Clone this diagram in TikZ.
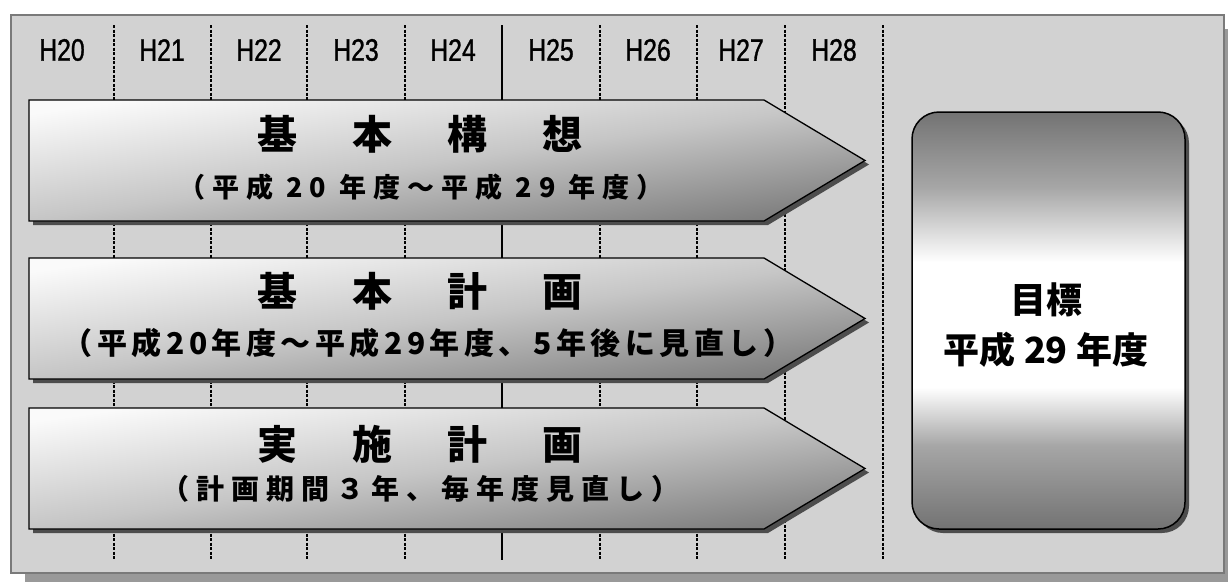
\documentclass[tikz,border=0pt]{standalone}
\usepackage{fontspec}
\newfontfamily\cjk{Noto Sans CJK JP}
\newfontfamily\labfont[FakeStretch=0.8,FakeBold=1]{Liberation Sans}
\definecolor{panelfill}{HTML}{D2D2D2}
\definecolor{panelline}{HTML}{7A7A7A}
\definecolor{panelshadow}{HTML}{999999}
\definecolor{boxshadow}{HTML}{4D4D4D}
\definecolor{gdark}{HTML}{737373}
\definecolor{gmid}{HTML}{A6A6A6}
\definecolor{adark}{HTML}{7C7C7C}
\definecolor{amid}{HTML}{C6C6C6}
\definecolor{alight}{HTML}{FAFAFA}
\pgfdeclareverticalshading{goalshade}{100bp}{color(0bp)=(gdark); color(25bp)=(gdark); color(35bp)=(gmid); color(42bp)=(white); color(57bp)=(white); color(66bp)=(gmid); color(75bp)=(gdark); color(100bp)=(gdark)}
\pgfdeclareverticalshading{arrowshade}{100bp}{color(0bp)=(adark); color(25bp)=(adark); color(50bp)=(amid); color(75bp)=(alight); color(100bp)=(alight)}
\tikzset{
  panel/.style={fill=panelfill, draw=panelline, line width=1.5pt},
  gridline/.style={line width=1.2pt, dash pattern=on 3pt off 1.5pt},
  mainline/.style={line width=2.6pt},
  yearlab/.style={font=\labfont\fontsize{31}{31}\selectfont, inner sep=0pt},
  stage/.style={draw=black, line width=1.3pt, shading=arrowshade, shading angle=8},
  goalbox/.style={draw=black, line width=1.5pt, shading=goalshade, rounded corners=27pt},
  titlelab/.style={font=\cjk\bfseries\fontsize{40}{40}\selectfont, inner sep=0pt},
  sublab/.style={font=\cjk\bfseries\fontsize{#1}{#1}\selectfont, inner sep=0pt},
  goallab/.style={font=\cjk\bfseries\fontsize{36}{50}\selectfont, align=center, inner sep=0pt},
}
\newcommand\stagearrow[2]{%
  \fill[boxshadow] (33,#1+4) -- (768,#1+4) -- (869,{(#1+#2)/2+4}) -- (768,#2+4) -- (33,#2+4) -- cycle;
  \shadedraw[stage] (29,#1) -- (764,#1) -- (865,{(#1+#2)/2}) -- (764,#2) -- (29,#2) -- cycle;
}
\newcommand\tch[1]{\makebox[95pt]{#1}}
\begin{document}
\begin{tikzpicture}[x=1pt,y=-1pt]
\useasboundingbox (0,0) rectangle (1228,581);
% panel
\fill[panelshadow] (25,29) rectangle (1240,590);
\draw[panel] (11,15) rectangle (1224,573);
% grid
\foreach \gx in {114,211,307,405,600,697,785,883}
  \draw[gridline] (\gx,25) -- (\gx,560);
\draw[mainline] (502,25) -- (502,560);
% year labels
\foreach \yx/\yt in {62/H20,162/H21,259/H22,356/H23,453/H24,551/H25,648/H26,741/H27,834/H28}
  \node[yearlab] (yr\yt) at (\yx,50) {\yt};
% stage arrows
\stagearrow{100}{221}
\stagearrow{258}{379}
\stagearrow{408}{529}
% goal box
\fill[boxshadow, rounded corners=27pt] (916,116) rectangle (1189,533);
\shadedraw[goalbox] (912,112) rectangle (1185,529);
% texts
\node[titlelab] (t1) at (420,134) {\tch{基}\tch{本}\tch{構}\tch{想}};
\node[sublab=27] (s1) at (421,187) {\addfontfeature{LetterSpace=26}（平成 20 年度～平成 29 年度）};
\node[titlelab] (t2) at (420,291) {\tch{基}\tch{本}\tch{計}\tch{画}};
\node[sublab=30] (s2) at (428,343) {\addfontfeature{LetterSpace=15}（平成20年度～平成29年度、5年後に見直し）};
\node[titlelab] (t3) at (420,444) {\tch{実}\tch{施}\tch{計}\tch{画}};
\node[sublab=28] (s3) at (420,489) {\addfontfeature{LetterSpace=25}（計画期間３年、毎年度見直し）};
\node[goallab] (goal) at (1046,325) {目標\\平成 29 年度};
\end{tikzpicture}
\end{document}
